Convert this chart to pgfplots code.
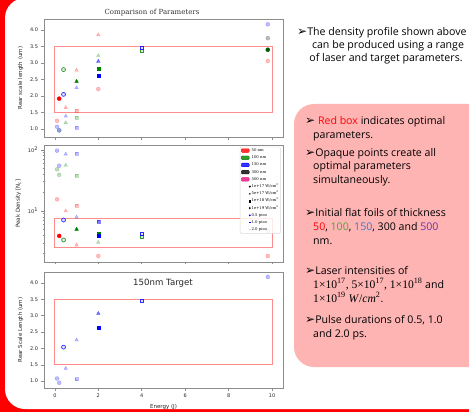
\documentclass[border=0pt]{standalone}
\usepackage{fontspec}
\setmainfont{Open Sans}
\newfontfamily\dejavu{DejaVu Sans}
\newfontfamily\dserif{DejaVu Serif}
\newfontfamily\lserif{Liberation Serif}
\usepackage{pgfplots}
\pgfplotsset{compat=1.18}
\definecolor{mred}{RGB}{255,0,0}
\definecolor{mgreen}{RGB}{0,128,0}
\definecolor{mblue}{RGB}{0,0,255}
\definecolor{boxred}{RGB}{255,140,140}
\definecolor{pinkbox}{RGB}{255,180,180}
\definecolor{tgreen}{RGB}{84,160,60}
\definecolor{tblue}{RGB}{70,114,196}
\definecolor{tpurple}{RGB}{112,48,160}
\definecolor{axgray}{RGB}{140,140,140}
\newcommand\bfs{\fontsize{10.6}{12}\selectfont}
\newcommand\tl[3]{\node[anchor=base west, inner sep=0pt, font=\bfs] at (#1pt,-#2pt) {#3};}
\newcommand\arr{\raisebox{-0.3pt}{\dejavu\fontsize{12}{12}\selectfont ➢}}
\newcommand\ms{\lserif\fontsize{11.6}{12}\selectfont}
\pgfplotsset{
  panel/.style={scale only axis, width=239pt, xmin=-0.5, xmax=10.5,
    axis line style={axgray, line width=0.7pt},
    xtick={0,2,4,6,8,10}, tick pos=left,
    tick align=outside, major tick length=2.5pt, minor tick length=1.5pt,
    tick style={axgray, line width=0.6pt},
    ticklabel style={font=\dejavu\fontsize{5}{6}\selectfont, text=black!85},
    label style={font=\dejavu\fontsize{5.5}{6.5}\selectfont, text=black!85},
    /pgf/number format/assume math mode=true,
    mark size=2pt, clip=false},
  op/.style={only marks, draw=#1, fill=#1, forget plot},
  lt/.style={only marks, draw=#1, fill=#1, opacity=0.25, forget plot},
  md/.style={only marks, draw=#1, fill=#1, opacity=0.5, forget plot},
  hl/.style={only marks, draw=#1, fill=#1!15, line width=0.7pt, opacity=0.8, forget plot},
  rbox/.style={boxred, line width=0.8pt, no marks, forget plot},
  C/.style={mark=*, mark size=2pt},
  T/.style={mark=triangle*, mark size=2.1pt},
  S/.style={mark=square*, mark size=1.5pt},
}
\begin{document}
\begin{tikzpicture}
\path[use as bounding box] (0pt,0pt) rectangle (469pt,-412pt);
\fill[mred] (0pt,0pt) rectangle (469pt,-412pt);
\fill[white, rounded corners=20pt] (5pt,2pt) rectangle (500pt,-409pt);
\fill[pinkbox, rounded corners=20pt] (294pt,-104pt) rectangle (500pt,-367pt);

% ---------- Panel 1 ----------
\begin{axis}[panel, at={(44pt,-137pt)}, anchor=south west, height=118pt,
  ymin=0.76, ymax=4.33, ytick={1,1.5,2,2.5,3,3.5,4}, xticklabels={},
  yticklabel style={/pgf/number format/.cd, fixed, fixed zerofill, precision=1},
  ylabel={Rear scale length (um)}]
\addplot[rbox] coordinates {(0,1.5) (10,1.5) (10,3.5) (0,3.5) (0,1.5)};
% red 50 nm
\addplot[op=mred, C] coordinates {(0.2,1.92)};
\addplot[lt=mred, C] coordinates {(0.1,1.25) (2,2.21) (9.8,3.06)};
\addplot[lt=mred, T] coordinates {(0.5,1.65) (1,2.78) (2,3.85)};
\addplot[lt=mred, S] coordinates {(1,1.55)};
% green 100 nm
\addplot[hl=mgreen, C] coordinates {(0.4,2.8)};
\addplot[op=mgreen, T] coordinates {(1,2.44)};
\addplot[op=mgreen, S] coordinates {(2,2.82)};
\addplot[lt=mgreen, T] coordinates {(0.5,1.19) (2,3.22)};
\addplot[lt=mgreen, S] coordinates {(1,1.35)};
\addplot[lt=mgreen, C] coordinates {(0.2,0.96)};
\addplot[hl=mgreen, S] coordinates {(4,3.38)};
\addplot[op=mgreen!70!black, C] coordinates {(9.8,3.4)};
% blue 150 nm
\addplot[hl=mblue, C] coordinates {(0.4,2.05)};
\addplot[op=mblue, S] coordinates {(2,2.62)};
\addplot[lt=mblue, T] coordinates {(0.5,1.39) (1,2.25)};
\addplot[md=mblue, T] coordinates {(2,3.05)};
\addplot[lt=mblue, S] coordinates {(1,1.05)};
\addplot[lt=mblue, C] coordinates {(0.1,1.07) (0.2,0.96) (9.8,4.17)};
\addplot[hl=mblue, S] coordinates {(4,3.45)};
% black 300 nm
\addplot[lt=black, C] coordinates {(9.8,3.75)};
\end{axis}
\node[font=\dserif\fontsize{7}{8}\selectfont, text=black!80] at (152pt,-13pt) {Comparison of Parameters};

% ---------- Panel 2 ----------
\begin{axis}[panel, at={(44pt,-262pt)}, anchor=south west, height=117pt,
  ymode=log, ymin=1.46, ymax=120, ytick={10,100},
  yticklabels={{10\textsuperscript{1}},{10\textsuperscript{2}}},
  minor ytick={2,3,4,5,6,7,8,9,20,30,40,50,60,70,80,90},
  xticklabels={},
  ylabel={Peak Density [N\textsubscript{c}]},
  legend cell align=left,
  legend style={at={(0.99,0.985)}, anchor=north east,
    font=\dserif\fontsize{3.8}{4}\selectfont, fill=white, fill opacity=0.8, text opacity=1,
    draw=black!15, rounded corners=1pt, inner sep=1pt, row sep=2pt,
    nodes={inner sep=0.8pt, text height=2.8pt, text depth=0.8pt}}]
\addlegendimage{legend image code/.code={\fill[mred] (0pt,-1.8pt) rectangle (8pt,1.8pt);}}
\addlegendentry{50 nm}
\addlegendimage{legend image code/.code={\fill[mgreen] (0pt,-1.8pt) rectangle (8pt,1.8pt);}}
\addlegendentry{100 nm}
\addlegendimage{legend image code/.code={\fill[mblue] (0pt,-1.8pt) rectangle (8pt,1.8pt);}}
\addlegendentry{150 nm}
\addlegendimage{legend image code/.code={\fill[black] (0pt,-1.8pt) rectangle (8pt,1.8pt);}}
\addlegendentry{300 nm}
\addlegendimage{legend image code/.code={\fill[magenta!80!purple] (0pt,-1.8pt) rectangle (8pt,1.8pt);}}
\addlegendentry{500 nm}
\addlegendimage{only marks, mark=*, mark size=0.8pt, black}
\addlegendentry{1e+17 W/cm\textsuperscript{2}}
\addlegendimage{only marks, mark=triangle*, mark size=0.6pt, black}
\addlegendentry{5e+17 W/cm\textsuperscript{2}}
\addlegendimage{only marks, mark=square*, mark size=0.8pt, black}
\addlegendentry{1e+18 W/cm\textsuperscript{2}}
\addlegendimage{only marks, mark=diamond*, mark size=0.9pt, black}
\addlegendentry{1e+19 W/cm\textsuperscript{2}}
\addlegendimage{only marks, mark=*, mark size=0.7pt, mblue}
\addlegendentry{0.5 pico}
\addlegendimage{only marks, mark=-, mark size=1pt, mblue}
\addlegendentry{1.0 pico}
\addlegendimage{only marks, mark=*, mark size=0.7pt, mblue!15}
\addlegendentry{2.0 pico}
\addplot[rbox] coordinates {(0,2.5) (10,2.5) (10,7.5) (0,7.5) (0,2.5)};
% red
\addplot[op=mred, C] coordinates {(0.2,3.9)};
\addplot[lt=mred, C] coordinates {(0.1,15.5) (2,1.83) (9.8,1.83)};
\addplot[lt=mred, S] coordinates {(1,12.4)};
\addplot[lt=mred, T] coordinates {(0.5,10) (1,2.77)};
% green
\addplot[hl=mgreen, C] coordinates {(0.4,3.35)};
\addplot[op=mgreen, T] coordinates {(1,5.0)};
\addplot[op=mgreen, S] coordinates {(2,4.2)};
\addplot[lt=mgreen, T] coordinates {(0.5,56) (2,3.07)};
\addplot[lt=mgreen, C] coordinates {(0.1,48) (0.2,39) (9.8,4.7)};
\addplot[lt=mgreen, S] coordinates {(1,37.5)};
\addplot[hl=mgreen, S] coordinates {(4,3.7)};
% blue
\addplot[hl=mblue, C] coordinates {(0.4,7.1)};
\addplot[op=mblue, S] coordinates {(2,3.9)};
\addplot[md=mblue, S] coordinates {(2,6.7)};
\addplot[lt=mblue, C] coordinates {(0.1,97) (0.2,55)};
\addplot[lt=mblue, T] coordinates {(0.5,85) (1,7.9)};
\addplot[lt=mblue, S] coordinates {(1,88)};
\addplot[hl=mblue, S] coordinates {(4,4.2)};
\end{axis}

% ---------- Panel 3 ----------
\begin{axis}[panel, at={(44pt,-388pt)}, anchor=south west, height=116pt,
  ymin=0.79, ymax=4.34, ytick={1,1.5,2,2.5,3,3.5,4},
  yticklabel style={/pgf/number format/.cd, fixed, fixed zerofill, precision=1},
  ylabel={Rear Scale Length (um)}, xlabel={Energy (J)}]
\addplot[rbox] coordinates {(0,1.5) (10,1.5) (10,3.5) (0,3.5) (0,1.5)};
\addplot[hl=mblue, S] coordinates {(4,3.46)};
\addplot[md=mblue, T] coordinates {(2,3.07)};
\addplot[op=mblue, S] coordinates {(2,2.63)};
\addplot[hl=mblue, C] coordinates {(0.4,2.04)};
\addplot[lt=mblue, T] coordinates {(1,2.26) (0.5,1.39)};
\addplot[lt=mblue, C] coordinates {(0.1,1.08) (0.2,0.95) (9.8,4.19)};
\addplot[lt=mblue, S] coordinates {(1,1.06)};
\end{axis}
\node[font=\dejavu\fontsize{8.6}{9}\selectfont, text=black!85] at (163pt,-283pt) {150nm Target};

% ---------- Right text ----------
\tl{297}{35.5}{\arr The density profile shown above}
\node[anchor=base, inner sep=0pt, font=\bfs] at (388pt,-48.5pt) {can be produced using a range};
\node[anchor=base, inner sep=0pt, font=\bfs] at (386pt,-62pt) {of laser and target parameters.};

\tl{305}{124.5}{\arr\ \textcolor{mred}{Red box} indicates optimal}
\tl{313}{138.5}{parameters.}
\tl{305}{156}{\arr Opaque points create all}
\tl{313}{169.5}{optimal parameters}
\tl{313}{183.5}{simultaneously.}
\tl{305}{216}{\arr Initial flat foils of thickness}
\tl{313}{230}{\textcolor{mred}{50}, \textcolor{tgreen}{100}, \textcolor{tblue}{150}, 300 and \textcolor{tpurple}{500}}
\tl{313}{244}{nm.}
\tl{305}{274.5}{\arr Laser intensities of}
\tl{313}{288}{{\ms 1×10\textsuperscript{17}, 5×10\textsuperscript{17}, 1×10\textsuperscript{18}} and}
\tl{313}{302}{{\ms 1×10\textsuperscript{19} \textit{W}/\textit{cm}\textsuperscript{2}}.}
\tl{305}{323.5}{\arr Pulse durations of 0.5, 1.0}
\tl{313}{337.5}{and 2.0 ps.}
\end{tikzpicture}
\end{document}
